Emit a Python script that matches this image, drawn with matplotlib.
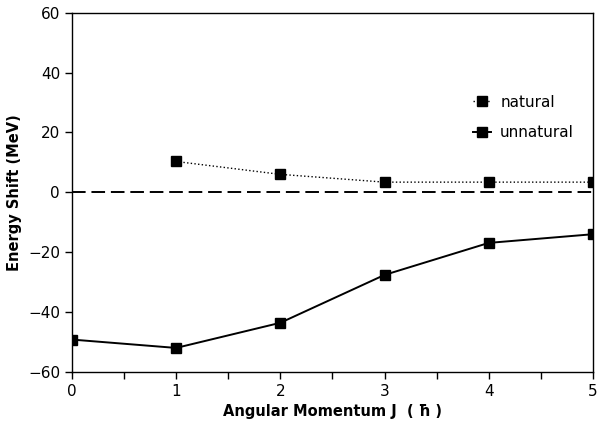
import matplotlib.pyplot as plt
from matplotlib.ticker import MultipleLocator

j_natural = [1, 2, 3, 4, 5]
shift_natural = [10.3, 6.0, 3.4, 3.4, 3.4]

j_unnatural = [0, 1, 2, 3, 4, 5]
shift_unnatural = [-49.2, -52.0, -43.6, -27.6, -16.9, -14.0]

fig = plt.figure(figsize=(5.99, 4.25), dpi=100)
ax = fig.add_axes([0.120, 0.125, 0.870, 0.845])

ax.axhline(0, color='black', lw=1.4, ls=(0, (7, 3)))
ax.plot(j_natural, shift_natural, color='black', ls=':', lw=1.0,
        marker='s', ms=7, label='natural')
ax.plot(j_unnatural, shift_unnatural, color='black', ls='-', lw=1.4,
        marker='s', ms=7, label='unnatural')

ax.set_xlim(0, 5)
ax.set_ylim(-60, 60)
ax.xaxis.set_major_locator(MultipleLocator(1))
ax.xaxis.set_minor_locator(MultipleLocator(0.5))
ax.yaxis.set_major_locator(MultipleLocator(20))
ax.tick_params(which='both', direction='out', length=5, width=1, labelsize=11)
for s in ax.spines.values():
    s.set_linewidth(1)

ax.set_xlabel('Angular Momentum J  ( ħ )', fontsize=10.5, fontweight='bold')
ax.set_ylabel('Energy Shift (MeV)', fontsize=10.5, fontweight='bold')

ax.legend(loc='upper right', bbox_to_anchor=(0.99, 0.81), frameon=False,
          handlelength=1.2, fontsize=11, labelspacing=1.0, handletextpad=0.6)

fig.savefig('out.png', dpi=100)
